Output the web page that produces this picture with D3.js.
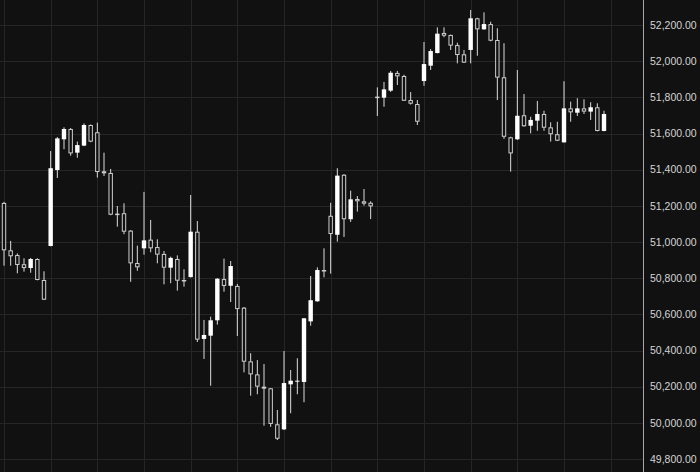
<!DOCTYPE html>
<html>
<head>
<meta charset="utf-8">
<script src="https://cdn.jsdelivr.net/npm/d3@7/dist/d3.min.js"></script>
<style>
  html, body { margin: 0; padding: 0; background: #111111; }
  svg { display: block; }
</style>
</head>
<body>
<svg id="chart" width="700" height="472"></svg>
<script>
// ---- data ----
const opens  = [51216,50954,50928,50877,50856,50906,50790,50978,51398,51568,51625,51494,51533,51647,51607,51391,51382,51157,51159,51063,
                50884,50965,51013,50972,50934,50858,50906,50790,50806,51057,50464,50482,50567,50795,50758,50757,50637,50340,50268,50200,
                50191,49992,49964,50213,50230,50226,50561,50672,50845,51145,51040,51372,51126,51238,51225,51217,51804,51798,51837,51935,
                51918,51785,51763,51890,51975,52045,52156,52145,52089,52038,52062,52237,52176,52205,52117,51911,51579,51568,51701,51643,
                51671,51708,51634,51596,51551,51739,51715,51739,51721,51745,51614];
const highs  = [51222,51006,50937,50910,50912,50910,50838,51503,51580,51634,51630,51555,51656,51650,51660,51494,51404,51199,51214,51065,
                50980,51277,51122,51015,50950,50919,50926,50849,51260,51116,50569,50587,50800,50908,50895,50768,50640,50385,50347,50325,
                50192,50071,50397,50292,50357,50580,50812,50860,50965,51217,51408,51375,51284,51254,51293,51225,51855,51885,51946,51946,
                51925,51829,51785,52106,52067,52187,52187,52147,52102,52062,52283,52240,52270,52218,52182,52099,51582,51951,51818,51693,
                51780,51726,51662,51665,51889,51776,51795,51789,51773,51767,51726];
const lows   = [50869,50869,50827,50836,50830,50788,50680,50976,51354,51513,51477,51466,51530,51552,51356,51365,51148,51085,51043,50780,
                50841,50930,50943,50882,50766,50772,50731,50753,50804,50447,50353,50205,50543,50725,50668,50480,50279,50150,50158,49984,
                49978,49905,49960,50053,50158,50114,50537,50670,50805,50825,51002,51028,51111,51168,51201,51127,51697,51748,51830,51868,
                51780,51760,51647,51864,51951,52043,52132,52062,51988,51990,51988,52030,52174,52110,51785,51570,51389,51565,51638,51601,
                51615,51615,51555,51558,51550,51665,51697,51708,51675,51612,51612];
const closes = [50954,50921,50873,50856,50906,50790,50681,51408,51573,51625,51490,51536,51647,51555,51387,51380,51151,51155,51057,50882,
                50860,51009,50965,50930,50858,50912,50786,50784,51057,50460,50486,50567,50797,50757,50867,50629,50338,50268,50200,50189,
                49994,49912,50220,50233,50233,50578,50678,50845,50842,51044,51367,51126,51236,51225,51212,51197,51802,51844,51936,51916,
                51781,51765,51665,51984,52056,52152,52141,52086,52034,51992,52237,52176,52205,52113,51909,51582,51490,51698,51640,51675,
                51708,51632,51596,51560,51739,51717,51739,51721,51745,51614,51708];
const priceTicks = [49800,50000,50200,50400,50600,50800,51000,51200,51400,51600,51800,52000,52200];

// ---- layout ----
const W = 700, H = 472;
const plotRight = 643;
const svg = d3.select("#chart");
const n = opens.length;

const candles = d3.range(n).map(i => ({ i, o: opens[i], h: highs[i], l: lows[i], c: closes[i] }));

const x = d3.scaleLinear().domain([0, n - 1]).range([4, 604]);
const y = d3.scaleLinear().domain([49800, 52200]).range([459, 25]);

svg.append("rect").attr("width", W).attr("height", H).attr("fill", "#111111");

// grid
const grid = svg.append("g");
grid.selectAll("line.h").data(priceTicks).join("line")
  .attr("x1", 0).attr("x2", plotRight)
  .attr("y1", d => Math.round(y(d)) + 0.5).attr("y2", d => Math.round(y(d)) + 0.5)
  .attr("stroke", "#262626").attr("stroke-width", 1);
const vIdx = d3.range(0, n + 1, 7);
grid.selectAll("line.v").data(vIdx).join("line")
  .attr("x1", d => Math.round(x(d)) + 0.5).attr("x2", d => Math.round(x(d)) + 0.5)
  .attr("y1", 0).attr("y2", H)
  .attr("stroke", "#262626").attr("stroke-width", 1);

// candles
const bw = 4.4;
const cg = svg.append("g");
const g = cg.selectAll("g.c").data(candles).join("g");
g.append("line")
  .attr("x1", d => x(d.i)).attr("x2", d => x(d.i))
  .attr("y1", d => y(d.h)).attr("y2", d => y(d.l))
  .attr("stroke", "#dcdcdc").attr("stroke-width", 1);
g.each(function(d) {
  const sel = d3.select(this);
  const top = y(Math.max(d.o, d.c)), bot = y(Math.min(d.o, d.c));
  const hgt = Math.max(bot - top, 1);
  if (d.c >= d.o) {
    sel.append("rect")
      .attr("x", x(d.i) - bw / 2).attr("width", bw)
      .attr("y", top).attr("height", hgt)
      .attr("fill", "#ffffff");
  } else {
    sel.append("rect")
      .attr("x", x(d.i) - bw / 2 + 0.5).attr("width", bw - 1)
      .attr("y", top + 0.5).attr("height", Math.max(hgt - 1, 0.5))
      .attr("fill", "#111111").attr("stroke", "#cfcfcf").attr("stroke-width", 1);
  }
});

// price axis
svg.append("line")
  .attr("x1", plotRight + 0.5).attr("x2", plotRight + 0.5)
  .attr("y1", 0).attr("y2", H)
  .attr("stroke", "#a8a8a8").attr("stroke-width", 1);
const fmt = d3.format(",.2f");
svg.append("g").selectAll("text").data(priceTicks).join("text")
  .attr("x", 650).attr("y", d => y(d)).attr("dy", "0.35em")
  .attr("fill", "#d4d4d4")
  .attr("font-family", "'Liberation Sans', Arial, sans-serif")
  .attr("font-size", "10.5px")
  .text(d => fmt(d));
</script>
</body>
</html>
